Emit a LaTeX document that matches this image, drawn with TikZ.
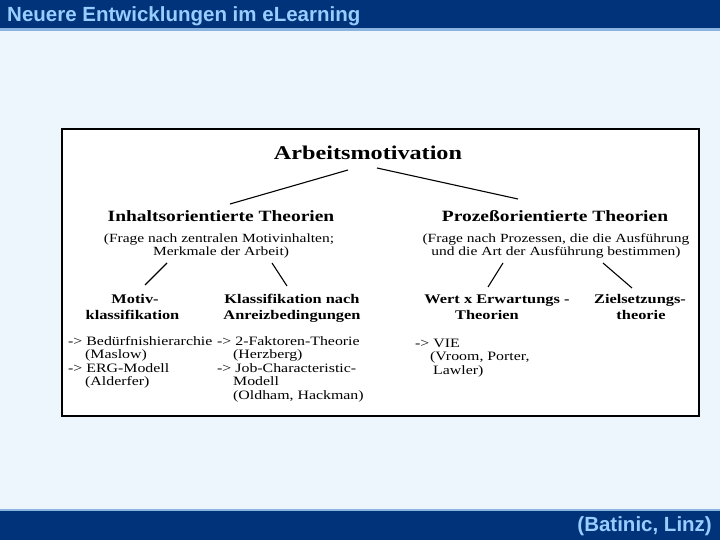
\documentclass[tikz,border=0pt]{standalone}
\usepackage{fontspec}
\setmainfont[FakeStretch=1.24]{Liberation Serif}
\newfontfamily\arialfont{Liberation Sans}
\definecolor{barblue}{HTML}{00337A}
\definecolor{barline}{HTML}{8CB4E1}
\definecolor{slidebg}{HTML}{EEF6FD}
\definecolor{titletxt}{HTML}{99CCFF}
\tikzset{
  bartitle/.style={font=\arialfont\bfseries\fontsize{20.5}{24}\selectfont, text=titletxt, inner sep=0pt},
  toptitle/.style={font=\bfseries\fontsize{19.5}{22}\selectfont, inner sep=0pt, anchor=base},
  heading/.style={font=\bfseries\fontsize{15.7}{18}\selectfont, inner sep=0pt, anchor=base},
  subheading/.style={font=\bfseries\fontsize{13.2}{15}\selectfont, inner sep=0pt, anchor=base},
  note/.style={font=\fontsize{12.5}{14}\selectfont, inner sep=0pt, anchor=base},
  item/.style={font=\fontsize{12.8}{14}\selectfont, inner sep=0pt, anchor=base west},
  connector/.style={line width=1.1pt}
}
\begin{document}
\begin{tikzpicture}[x=1pt,y=-1pt]
\useasboundingbox (0,0) rectangle (720,540);
% slide background and bars
\fill[slidebg] (0,0) rectangle (720,540);
\fill[barblue] (0,0) rectangle (720,28.3);
\fill[barline] (0,28.3) rectangle (720,31);
\fill[barline] (0,509) rectangle (720,511);
\fill[barblue] (0,511) rectangle (720,540);
\node[bartitle, anchor=base west] (title) at (7,21.7) {Neuere Entwicklungen im eLearning};
\node[bartitle, anchor=base east] (source) at (712,531.7) {(Batinic, Linz)};
% diagram frame
\draw[line width=2pt, fill=white] (62,129) rectangle (699,416);
% top level
\node[toptitle] (root) at (368,160) {Arbeitsmotivation};
\node[heading] (inhalt) at (221,222) {Inhaltsorientierte Theorien};
\node[heading] (prozess) at (555,222) {Prozeßorientierte Theorien};
\node[note] (inhaltA) at (219,242) {(Frage nach zentralen Motivinhalten;};
\node[note] (inhaltB) at (221,255) {Merkmale der Arbeit)};
\node[note] (prozessA) at (556,242) {(Frage nach Prozessen, die die Ausführung};
\node[note] (prozessB) at (556,255) {und die Art der Ausführung bestimmen)};
% second level headings
\node[subheading] (motivA) at (135,303.5) {Motiv-};
\node[subheading] (motivB) at (132.5,319) {klassifikation};
\node[subheading] (klassA) at (292,303.5) {Klassifikation nach};
\node[subheading] (klassB) at (292,319) {Anreizbedingungen};
\node[subheading] (wertA) at (497,303.5) {Wert x Erwartungs -};
\node[subheading] (wertB) at (487,319) {Theorien};
\node[subheading] (zielA) at (640,303.5) {Zielsetzungs-};
\node[subheading] (zielB) at (641,319) {theorie};
% lists
\node[item] (m1) at (68,345) {-> Bedürfnishierarchie};
\node[item] (m2) at (85,358.5) {(Maslow)};
\node[item] (m3) at (68,372) {-> ERG-Modell};
\node[item] (m4) at (85,385.5) {(Alderfer)};
\node[item] (k1) at (217,345) {-> 2-Faktoren-Theorie};
\node[item] (k2) at (233,358.5) {(Herzberg)};
\node[item] (k3) at (217,372) {-> Job-Characteristic-};
\node[item] (k4) at (233,385.5) {Modell};
\node[item] (k5) at (233,399) {(Oldham, Hackman)};
\node[item] (w1) at (415,347) {-> VIE};
\node[item] (w2) at (430,360.5) {(Vroom, Porter,};
\node[item] (w3) at (433,374) {Lawler)};
% connectors
\coordinate (c1a) at (348,170); \coordinate (c1b) at (230,204);
\coordinate (c2a) at (377,168); \coordinate (c2b) at (518,199);
\coordinate (c3a) at (167,263); \coordinate (c3b) at (145,285);
\coordinate (c4a) at (272,263); \coordinate (c4b) at (287,286);
\coordinate (c5a) at (503,263); \coordinate (c5b) at (488,287);
\coordinate (c6a) at (603,263); \coordinate (c6b) at (632,288);
\draw[connector] (c1a) -- (c1b);
\draw[connector] (c2a) -- (c2b);
\draw[connector] (c3a) -- (c3b);
\draw[connector] (c4a) -- (c4b);
\draw[connector] (c5a) -- (c5b);
\draw[connector] (c6a) -- (c6b);
\end{tikzpicture}
\end{document}
